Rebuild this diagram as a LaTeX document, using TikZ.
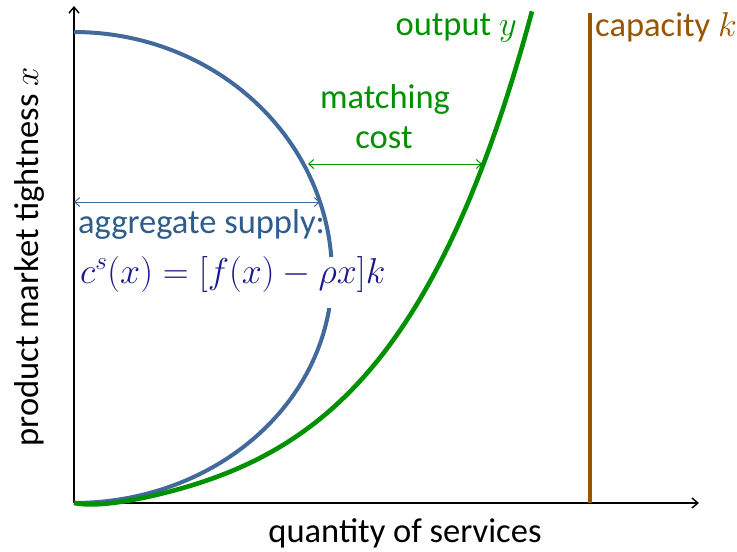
\RequirePackage{fix-cm}
\documentclass[tikz,border=0pt]{standalone}
\usepackage[no-math]{fontspec}
\setmainfont{Carlito}
\usetikzlibrary{arrows.meta}
\definecolor{supblue}{RGB}{65,105,155}
\definecolor{suptext}{RGB}{46,92,140}
\definecolor{formnavy}{RGB}{25,25,140}
\definecolor{outgreen}{RGB}{0,145,0}
\definecolor{capbrown}{RGB}{153,85,0}
\tikzset{
  lbl/.style={inner sep=0pt, font=\fontsize{34.5}{40}\selectfont},
  axisline/.style={line width=1.4pt, -{Straight Barb[length=6pt,width=10pt]}},
  thinarrow/.style={line width=1pt, {Straight Barb[length=5pt,width=9pt]}-{Straight Barb[length=5pt,width=9pt]}},
}
\begin{document}
\begin{tikzpicture}[x=1pt,y=-1pt]
\useasboundingbox (0,0) rectangle (737,552);
% axes
\coordinate (O) at (74,503);
\coordinate (ytop) at (74,6);
\coordinate (xend) at (699,503);
\draw[axisline] (O) -- (ytop);
\draw[axisline] (O) -- (xend);
% blue supply curve
\draw[supblue, line width=4pt]
  plot[domain=90:0, samples=60, variable=\t] ({74+258*cos(\t)}, {275-243*sin(\t)})
  -- plot[domain=0:90, samples=60, variable=\t] ({74+258*cos(\t)}, {275+228*sin(\t)});
% green output curve
\draw[outgreen, line width=4.6pt] plot[smooth, domain=0:458, samples=90, variable=\u]
  ({74+\u}, {503-(25.5*(exp(\u/148)-1)-0.1*\u-0.25*\u*exp(-\u/40))});
% brown capacity line
\draw[capbrown, line width=4pt] (590,13) -- (590,503);
% arrows
\coordinate (bl) at (74,202);
\coordinate (br) at (320,202);
\draw[thinarrow, supblue] (bl) -- (br);
\coordinate (gl) at (308,164);
\coordinate (gr) at (482,164);
\draw[thinarrow, outgreen] (gl) -- (gr);
% labels
\node[lbl, text=suptext, anchor=base west] (agg) at (78,233) {aggregate supply:};
\node[lbl, text=formnavy, anchor=base west, fill=white, text height=26pt, text depth=25pt, inner xsep=2pt, font=\fontsize{36}{40}\selectfont] (form) at (78,283) {$c^s(x)=[f(x)-\rho x]k$};
\node[lbl, text=outgreen, anchor=base east] (out) at (517,35) {output $y$};
\node[lbl, text=outgreen, anchor=base] (match) at (385,108) {matching};
\node[lbl, text=outgreen, anchor=base] (cost) at (384,148) {cost};
\node[lbl, text=capbrown, anchor=base west] (cap) at (595,36) {capacity $k$};
\node[lbl, anchor=base] (xlab) at (405,542) {quantity of services};
\node[lbl, anchor=base, rotate=90] (ylab) at (38,257) {product market tightness $x$};
\end{tikzpicture}
\end{document}
